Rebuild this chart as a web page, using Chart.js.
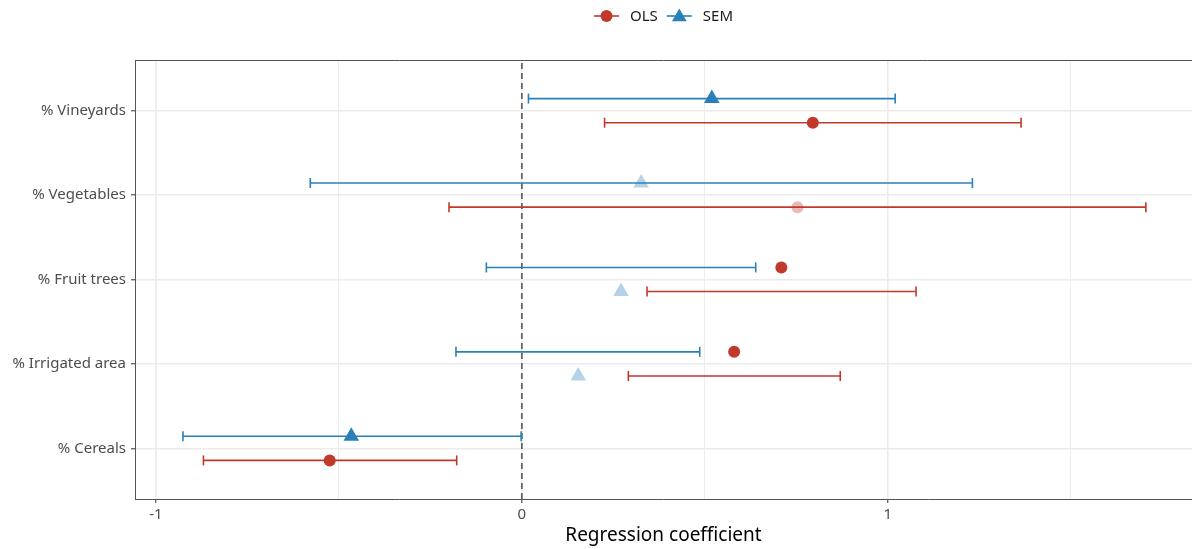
<!DOCTYPE html>
<html>
<head>
<meta charset="utf-8">
<script src="https://cdn.jsdelivr.net/npm/chart.js@4.4.0/dist/chart.umd.min.js"></script>
<style>
  html, body { margin: 0; padding: 0; background: #ffffff; }
  #wrap { width: 1192px; height: 549px; }
</style>
</head>
<body>
<div id="wrap"><canvas id="chart" width="1192" height="549"></canvas></div>
<script>
// Predictors, bottom to top on the y axis (positions 1..5)
const categories = ['% Cereals', '% Irrigated area', '% Fruit trees', '% Vegetables', '% Vineyards'];

// OLS estimates with confidence limits
const olsEst  = [-0.525, 0.580, 0.709, 0.753, 0.795];
const olsLow  = [-0.870, 0.291, 0.342, -0.199, 0.226];
const olsHigh = [-0.178, 0.870, 1.077, 1.705, 1.364];
const olsSig  = [true, true, true, false, true];

// SEM estimates with confidence limits
const semEst  = [-0.466, 0.154, 0.271, 0.326, 0.519];
const semLow  = [-0.926, -0.180, -0.097, -0.578, 0.018];
const semHigh = [-0.002, 0.486, 0.639, 1.231, 1.020];
const semSig  = [true, false, false, false, true];

// Which model's marker sits in the upper slot of each row
const upperMarker = ['SEM', 'OLS', 'OLS', 'SEM', 'SEM'];

// x axis tick positions (labels only on whole numbers)
const xTicks = [-1, -0.5, 0, 0.5, 1, 1.5];

const RED = 'rgb(192, 57, 43)';
const RED_LIGHT = 'rgba(192, 57, 43, 0.35)';
const BLUE = 'rgb(41, 128, 185)';
const BLUE_LIGHT = 'rgba(41, 128, 185, 0.35)';
const DODGE = 0.143;   // vertical offset of the two slots within a row
const FONT = '"Noto Sans", "DejaVu Sans", sans-serif';

const datasets = [];

// reference line at zero
datasets.push({
  type: 'line',
  data: [{ x: 0, y: 0.4 }, { x: 0, y: 5.6 }],
  borderColor: '#666666',
  borderWidth: 1.8,
  borderDash: [6, 4],
  pointRadius: 0,
  order: 20
});

// confidence-interval bars: SEM in the upper slot, OLS in the lower one
function addBar(lo, hi, y, color) {
  datasets.push({
    type: 'line',
    data: [{ x: lo, y: y }, { x: hi, y: y }],
    borderColor: color,
    borderWidth: 1.6,
    pointStyle: 'line',
    rotation: 90,
    pointRadius: 5,
    pointBorderColor: color,
    pointBorderWidth: 1.6,
    pointBackgroundColor: color,
    order: 10
  });
}
categories.forEach((c, i) => {
  const y = i + 1;
  addBar(semLow[i], semHigh[i], y + DODGE, BLUE);
  addBar(olsLow[i], olsHigh[i], y - DODGE, RED);
});

// point estimates
datasets.push({
  type: 'scatter',
  label: 'OLS',
  data: categories.map((c, i) => ({ x: olsEst[i], y: i + 1 + (upperMarker[i] === 'OLS' ? DODGE : -DODGE) })),
  pointStyle: 'circle',
  pointRadius: 6,
  pointBorderWidth: 0,
  backgroundColor: olsSig.map(s => s ? RED : RED_LIGHT),
  borderColor: 'transparent',
  order: 1
});
datasets.push({
  type: 'scatter',
  label: 'SEM',
  data: categories.map((c, i) => ({ x: semEst[i], y: i + 1 + (upperMarker[i] === 'SEM' ? DODGE : -DODGE) })),
  pointStyle: 'triangle',
  pointRadius: 9,
  pointBorderWidth: 0,
  backgroundColor: semSig.map(s => s ? BLUE : BLUE_LIGHT),
  borderColor: 'transparent',
  order: 1
});

// top frame line and legend keys
const framePlugin = {
  id: 'frameAndLegend',
  afterDraw(chart) {
    const { ctx, chartArea: a } = chart;
    ctx.save();
    ctx.strokeStyle = '#555555';
    ctx.lineWidth = 1;
    ctx.beginPath();
    ctx.moveTo(a.left, a.top + 0.5);
    ctx.lineTo(a.right, a.top + 0.5);
    ctx.stroke();

    const items = [
      { label: 'OLS', color: RED, shape: 'circle' },
      { label: 'SEM', color: BLUE, shape: 'triangle' }
    ];
    ctx.font = '15px ' + FONT;
    const keyW = 25, gapText = 11, gapItem = 9;
    const widths = items.map(it => keyW + gapText + ctx.measureText(it.label).width);
    const total = widths.reduce((s, w) => s + w, 0) + gapItem * (items.length - 1);
    let x = (a.left + a.right) / 2 - total / 2;
    const y = 16;
    items.forEach((it, k) => {
      ctx.strokeStyle = it.color;
      ctx.fillStyle = it.color;
      ctx.lineWidth = 1.6;
      ctx.beginPath();
      ctx.moveTo(x, y);
      ctx.lineTo(x + keyW, y);
      ctx.stroke();
      const cx = x + keyW / 2;
      ctx.beginPath();
      if (it.shape === 'circle') {
        ctx.arc(cx, y, 6, 0, Math.PI * 2);
      } else {
        const r = 8.5, cy = y + 1;
        ctx.moveTo(cx, cy - r);
        ctx.lineTo(cx + r * Math.sin(Math.PI * 2 / 3), cy + r / 2);
        ctx.lineTo(cx - r * Math.sin(Math.PI * 2 / 3), cy + r / 2);
        ctx.closePath();
      }
      ctx.fill();
      ctx.fillStyle = '#1a1a1a';
      ctx.textBaseline = 'middle';
      ctx.textAlign = 'left';
      ctx.fillText(it.label, x + keyW + gapText, y + 1);
      x += widths[k] + gapItem;
    });
    ctx.restore();
  }
};

new Chart(document.getElementById('chart'), {
  type: 'scatter',
  data: { datasets },
  plugins: [framePlugin],
  options: {
    responsive: false,
    animation: false,
    events: [],
    layout: { autoPadding: false, padding: { top: 60, right: 0, bottom: 0, left: 0 } },
    plugins: {
      legend: { display: false },
      tooltip: { enabled: false }
    },
    scales: {
      x: {
        type: 'linear',
        min: -1.057,
        max: 1.831,
        afterBuildTicks: s => { s.ticks = xTicks.map(v => ({ value: v })); },
        afterFit: s => { s.height = 50; s.paddingRight = 0; s.paddingLeft = 0; },
        ticks: {
          color: '#4d4d4d',
          font: { family: FONT, size: 15 },
          padding: 3,
          maxRotation: 0,
          callback: v => Number.isInteger(v) ? String(v) : ''
        },
        grid: {
          color: '#ebebeb',
          lineWidth: c => (c.tick && Number.isInteger(c.tick.value)) ? 1.6 : 0.9,
          tickLength: 4,
          tickColor: c => (c.tick && Number.isInteger(c.tick.value)) ? '#333333' : 'rgba(0,0,0,0)',
          tickWidth: 1
        },
        border: { color: '#555555', width: 1 },
        title: {
          display: true,
          text: 'Regression coefficient',
          color: '#000000',
          font: { family: FONT, size: 19 },
          padding: { top: 2, bottom: 2 }
        }
      },
      y: {
        type: 'linear',
        min: 0.4,
        max: 5.6,
        afterBuildTicks: s => { s.ticks = categories.map((c, i) => ({ value: i + 1 })); },
        afterFit: s => { s.width = 135; s.paddingTop = 0; s.paddingBottom = 0; },
        ticks: {
          color: '#4d4d4d',
          font: { family: FONT, size: 15 },
          padding: 5,
          callback: v => categories[v - 1] || ''
        },
        grid: {
          color: '#ebebeb',
          lineWidth: 1.6,
          tickLength: 4,
          tickColor: '#333333',
          tickWidth: 1
        },
        border: { color: '#555555', width: 1 }
      }
    }
  }
});
</script>
</body>
</html>
